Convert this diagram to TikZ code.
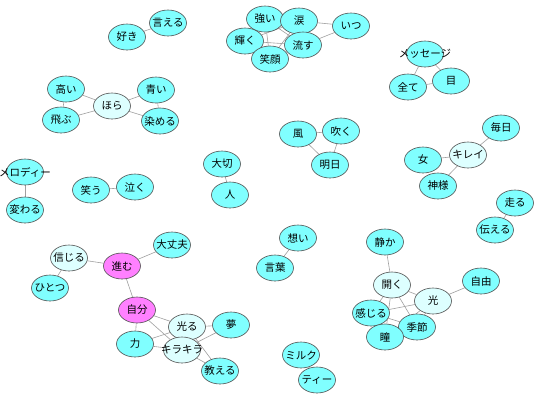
\documentclass[tikz,border=0pt]{standalone}
\usepackage{fontspec}
\setmainfont{Noto Sans CJK JP}
\usetikzlibrary{shapes.geometric,backgrounds}
\definecolor{cy}{HTML}{80FFFF}
\definecolor{lc}{HTML}{DDFFFF}
\definecolor{mg}{HTML}{FF80FF}
\definecolor{bd}{HTML}{505050}
\definecolor{eg}{HTML}{A0A0A0}
\newcommand{\fixw}[1]{\makebox[24pt][c]{#1}}
\tikzset{
  w/.style={ellipse,draw=bd,fill=cy,minimum width=37pt,minimum height=26pt,inner sep=0pt,font=\fontsize{10.5}{12}\selectfont,line width=0.6pt},
  wl/.style={w,fill=lc},
  wm/.style={w,fill=mg},
  e/.style={draw=eg,line width=0.6pt}
}
\begin{document}
\begin{tikzpicture}[x=1pt,y=-1pt]
\useasboundingbox (0,0) rectangle (541,400);
% top-left
\node[w] (suki) at (127,37) {\fixw{好き}};
\node[w] (ieru) at (168,23) {\fixw{言える}};
% tears cluster
\node[w] (tsuyoi) at (265,19) {\fixw{強い}};
\node[w] (namida) at (299,21) {\fixw{涙}};
\node[w] (itsu) at (351,26) {\fixw{いつ}};
\node[w] (kagayaku) at (245,41) {\fixw{輝く}};
\node[w] (nagasu) at (303,45) {\fixw{流す}};
\node[w] (egao) at (270,59) {\fixw{笑顔}};
% message
\node[w] (msg) at (425,54) {\fixw{メッセージ}};
\node[w] (subete) at (408,87) {\fixw{全て}};
\node[w] (me) at (451,81) {\fixw{目}};
% hora
\node[w] (takai) at (66,89) {\fixw{高い}};
\node[wl] (hora) at (112,106) {\fixw{ほら}};
\node[w] (aoi) at (156,90) {\fixw{青い}};
\node[w] (tobu) at (61,120) {\fixw{飛ぶ}};
\node[w] (someru) at (160,121) {\fixw{染める}};
% melody
\node[w] (melody) at (25,172) {\fixw{メロディー}};
\node[w] (kawaru) at (25,210) {\fixw{変わる}};
\node[w] (warau) at (91,190) {\fixw{笑う}};
\node[w] (naku) at (135,187) {\fixw{泣く}};
% wind
\node[w] (kaze) at (298,134) {\fixw{風}};
\node[w] (fuku) at (341,131) {\fixw{吹く}};
\node[w] (ashita) at (330,165) {\fixw{明日}};
\node[w] (taisetsu) at (222,164) {\fixw{大切}};
\node[w] (hito) at (230,195) {\fixw{人}};
% kirei
\node[w] (mainichi) at (501,128) {\fixw{毎日}};
\node[wl] (kirei) at (468,155) {\fixw{キレイ}};
\node[w] (onna) at (423,160) {\fixw{女}};
\node[w] (kamisama) at (438,186) {\fixw{神様}};
\node[w] (hashiru) at (515,203) {\fixw{走る}};
\node[w] (tsutaeru) at (495,230) {\fixw{伝える}};
% susumu
\node[wl] (shinjiru) at (69,258) {\fixw{信じる}};
\node[wm] (susumu) at (122,266) {\fixw{進む}};
\node[w] (daijoubu) at (172,245) {\fixw{大丈夫}};
\node[w] (hitotsu) at (50,288) {\fixw{ひとつ}};
\node[wm] (jibun) at (137,310) {\fixw{自分}};
\node[wl] (hikaru) at (187,327) {\fixw{光る}};
\node[w] (yume) at (231,325) {\fixw{夢}};
\node[w] (chikara) at (135,344) {\fixw{力}};
\node[wl] (kirakira) at (182,350) {\fixw{キラキラ}};
\node[w] (oshieru) at (220,371) {\fixw{教える}};
% omoi
\node[w] (omoi) at (298,238) {\fixw{想い}};
\node[w] (kotoba) at (275,268) {\fixw{言葉}};
\node[w] (milk) at (301,355) {\fixw{ミルク}};
\node[w] (tea) at (317,380) {\fixw{ティー}};
% hiraku
\node[w] (shizuka) at (385,242) {\fixw{静か}};
\node[wl] (hiraku) at (392,285) {\fixw{開く}};
\node[wl] (hikari) at (433,301) {\fixw{光}};
\node[w] (jiyuu) at (481,281) {\fixw{自由}};
\node[w] (kanjiru) at (371,313) {\fixw{感じる}};
\node[w] (kisetsu) at (417,327) {\fixw{季節}};
\node[w] (hitomi) at (385,337) {\fixw{瞳}};
\begin{scope}[on background layer]
\fill[white] (0,0) rectangle (541,400);
\path[e] (suki) -- (ieru);
\path[e] (tsuyoi) -- (namida);
\path[e] (tsuyoi) -- (nagasu);
\path[e] (tsuyoi) -- (egao);
\path[e] (tsuyoi) -- (kagayaku);
\path[e] (kagayaku) -- (namida);
\path[e] (kagayaku) -- (nagasu);
\path[e] (kagayaku) -- (egao);
\path[e] (egao) -- (namida);
\path[e] (egao) -- (nagasu);
\path[e] (namida) -- (itsu);
\path[e] (nagasu) -- (itsu);
\path[e] (namida) -- (nagasu);
\path[e] (msg) -- (subete);
\path[e] (msg) -- (me);
\path[e] (subete) -- (me);
\path[e] (hora) -- (takai);
\path[e] (hora) -- (aoi);
\path[e] (hora) -- (tobu);
\path[e] (hora) -- (someru);
\path[e] (takai) -- (tobu);
\path[e] (aoi) -- (someru);
\path[e] (melody) -- (kawaru);
\path[e] (warau) -- (naku);
\path[e] (kaze) -- (fuku);
\path[e] (kaze) -- (ashita);
\path[e] (fuku) -- (ashita);
\path[e] (taisetsu) -- (hito);
\path[e] (kirei) -- (mainichi);
\path[e] (kirei) -- (onna);
\path[e] (kirei) -- (kamisama);
\path[e] (hashiru) -- (tsutaeru);
\path[e] (shinjiru) -- (susumu);
\path[e] (shinjiru) -- (hitotsu);
\path[e] (susumu) -- (daijoubu);
\path[e] (susumu) -- (jibun);
\path[e] (jibun) -- (hikaru);
\path[e] (jibun) -- (chikara);
\path[e] (jibun) -- (kirakira);
\path[e] (chikara) -- (hikaru);
\path[e] (chikara) -- (kirakira);
\path[e] (hikaru) -- (yume);
\path[e] (hikaru) -- (oshieru);
\path[e] (kirakira) -- (yume);
\path[e] (kirakira) -- (oshieru);
\path[e] (omoi) -- (kotoba);
\path[e] (milk) -- (tea);
\path[e] (shizuka) -- (hiraku);
\path[e] (hiraku) -- (hikari);
\path[e] (hiraku) -- (kanjiru);
\path[e] (hiraku) -- (kisetsu);
\path[e] (hiraku) -- (hitomi);
\path[e] (hikari) -- (jiyuu);
\path[e] (hikari) -- (kanjiru);
\path[e] (hikari) -- (kisetsu);
\path[e] (hikari) -- (hitomi);
\path[e] (kanjiru) -- (kisetsu);
\path[e] (kanjiru) -- (hitomi);
\end{scope}
\end{tikzpicture}
\end{document}
